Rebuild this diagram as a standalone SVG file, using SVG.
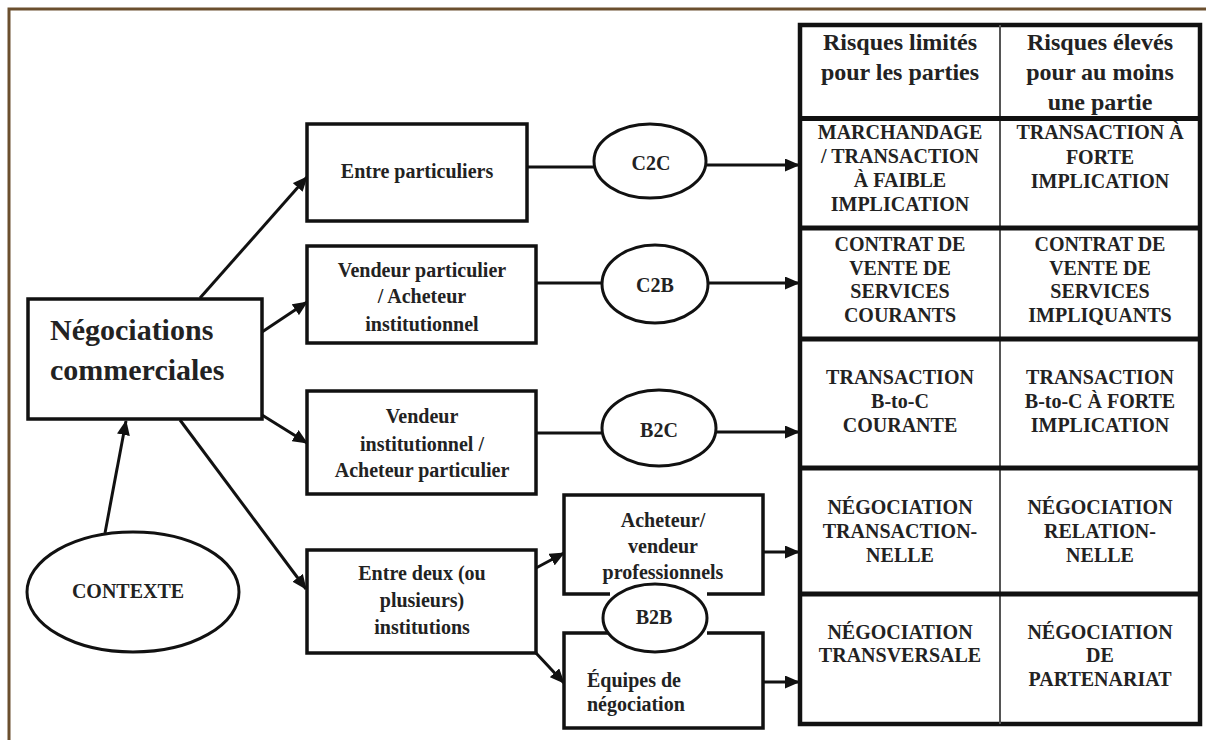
<svg xmlns="http://www.w3.org/2000/svg" width="1206" height="740" viewBox="0 0 1206 740">
<defs>
<style>
.t{font-size:20px;text-anchor:middle;}
.tl{font-size:20px;}
.big{font-size:30px;}
.hd{font-size:24px;text-anchor:middle;}
.box{fill:#fff;stroke:#111;stroke-width:3.5;}
.ell{fill:#fff;stroke:#111;stroke-width:3;}
.ln{stroke:#111;stroke-width:3;fill:none;}
.arr{stroke:#111;stroke-width:3;fill:none;marker-end:url(#ah);}
.thick{stroke:#111;stroke-width:5;fill:none;}
</style>
<marker id="ah" markerUnits="userSpaceOnUse" markerWidth="15" markerHeight="13" refX="14" refY="6.5" orient="auto">
<path d="M0,0 L15,6.5 L0,13 z" fill="#111"/>
</marker>
</defs>
<rect width="1206" height="740" fill="#fff"/>
<path d="M9,740 V9 H1206" fill="none" stroke="#6b4f2e" stroke-width="3"/>

<g id="connectors">
<line class="arr" x1="200" y1="298" x2="307" y2="177"/>
<line class="arr" x1="262" y1="332" x2="307" y2="302"/>
<line class="arr" x1="262" y1="415" x2="307" y2="443"/>
<line class="arr" x1="180" y1="420" x2="306" y2="589"/>
<line class="arr" x1="105" y1="533" x2="126" y2="421"/>
<line class="ln" x1="527" y1="167" x2="594" y2="167"/>
<line class="arr" x1="707" y1="165" x2="799" y2="165"/>
<line class="ln" x1="536" y1="283" x2="602" y2="283"/>
<line class="arr" x1="708" y1="283" x2="799" y2="283"/>
<line class="ln" x1="536" y1="433" x2="602" y2="433"/>
<line class="arr" x1="716" y1="432" x2="799" y2="432"/>
<line class="arr" x1="536" y1="568" x2="564" y2="553"/>
<line class="arr" x1="536" y1="653" x2="564" y2="683"/>
<line class="arr" x1="763" y1="552" x2="799" y2="552"/>
<line class="arr" x1="763" y1="682" x2="799" y2="682"/>
</g>

<g font-family="'Liberation Serif', 'DejaVu Serif', serif" font-weight="bold" fill="#222">
<g id="negociations">
<rect class="box" x="28" y="299" width="234" height="120"/>
<text class="big" x="50" y="340">Négociations</text>
<text class="big" x="50" y="380">commerciales</text>
</g>

<g id="contexte">
<ellipse class="ell" cx="133" cy="592" rx="106" ry="60"/>
<text class="t" x="128" y="598">CONTEXTE</text>
</g>

<g id="entre-particuliers">
<rect class="box" x="307" y="124" width="220" height="97"/>
<text class="t" x="417" y="178">Entre particuliers</text>
</g>

<g id="vendeur-particulier">
<rect class="box" x="307" y="246" width="229" height="97"/>
<text class="t" x="422" y="277">Vendeur particulier</text>
<text class="t" x="422" y="303">/ Acheteur</text>
<text class="t" x="422" y="331">institutionnel</text>
</g>

<g id="vendeur-institutionnel">
<rect class="box" x="307" y="391" width="229" height="103"/>
<text class="t" x="422" y="423">Vendeur</text>
<text class="t" x="422" y="451">institutionnel /</text>
<text class="t" x="422" y="477">Acheteur particulier</text>
</g>

<g id="entre-deux">
<rect class="box" x="307" y="550" width="229" height="103"/>
<text class="t" x="422" y="580">Entre deux (ou</text>
<text class="t" x="422" y="607">plusieurs)</text>
<text class="t" x="422" y="634">institutions</text>
</g>

<g id="acheteur-vendeur">
<rect class="box" x="564" y="495" width="199" height="99"/>
<text class="t" x="663" y="527">Acheteur/</text>
<text class="t" x="663" y="553">vendeur</text>
<text class="t" x="663" y="579">professionnels</text>
</g>

<g id="equipes">
<rect class="box" x="564" y="633" width="199" height="95"/>
<text class="tl" x="587" y="687">Équipes de</text>
<text class="tl" x="587" y="711">négociation</text>
</g>

<g id="c2c">
<ellipse class="ell" cx="650" cy="161" rx="56" ry="37"/>
<text class="t" x="651" y="170">C2C</text>
</g>

<g id="c2b">
<ellipse class="ell" cx="655" cy="284" rx="53" ry="39"/>
<text class="t" x="655" y="292">C2B</text>
</g>

<g id="b2c">
<ellipse class="ell" cx="659" cy="428" rx="57" ry="38"/>
<text class="t" x="659" y="437">B2C</text>
</g>

<g id="b2b">
<rect x="610" y="590" width="97" height="47" fill="#fff"/>
<ellipse class="ell" cx="655" cy="618" rx="52" ry="34"/>
<text class="t" x="654" y="624">B2B</text>
</g>

<g id="table">
<rect x="800" y="25" width="400" height="699" fill="#fff" stroke="#111" stroke-width="4.5"/>
<line x1="1000" y1="25" x2="1000" y2="724" stroke="#555" stroke-width="2"/>
<line class="thick" x1="800" y1="118.5" x2="1200" y2="118.5"/>
<line class="thick" x1="800" y1="228" x2="1200" y2="228"/>
<line class="thick" x1="800" y1="339" x2="1200" y2="339"/>
<line class="thick" x1="800" y1="468" x2="1200" y2="468"/>
<line class="thick" x1="800" y1="594" x2="1200" y2="594"/>

<text class="hd" x="900" y="50">Risques limités</text>
<text class="hd" x="900" y="80">pour les parties</text>
<text class="hd" x="1100" y="50">Risques élevés</text>
<text class="hd" x="1100" y="80">pour au moins</text>
<text class="hd" x="1100" y="110">une partie</text>

<text class="t" x="900" y="139">MARCHANDAGE</text>
<text class="t" x="900" y="163">/ TRANSACTION</text>
<text class="t" x="900" y="187">À FAIBLE</text>
<text class="t" x="900" y="211">IMPLICATION</text>
<text class="t" x="1100" y="139">TRANSACTION À</text>
<text class="t" x="1100" y="164">FORTE</text>
<text class="t" x="1100" y="188">IMPLICATION</text>

<text class="t" x="900" y="251">CONTRAT DE</text>
<text class="t" x="900" y="275">VENTE DE</text>
<text class="t" x="900" y="298">SERVICES</text>
<text class="t" x="900" y="322">COURANTS</text>
<text class="t" x="1100" y="251">CONTRAT DE</text>
<text class="t" x="1100" y="275">VENTE DE</text>
<text class="t" x="1100" y="298">SERVICES</text>
<text class="t" x="1100" y="322">IMPLIQUANTS</text>

<text class="t" x="900" y="384">TRANSACTION</text>
<text class="t" x="900" y="408">B-to-C</text>
<text class="t" x="900" y="432">COURANTE</text>
<text class="t" x="1100" y="384">TRANSACTION</text>
<text class="t" x="1100" y="408">B-to-C À FORTE</text>
<text class="t" x="1100" y="432">IMPLICATION</text>

<text class="t" x="900" y="514">NÉGOCIATION</text>
<text class="t" x="900" y="538">TRANSACTION-</text>
<text class="t" x="900" y="562">NELLE</text>
<text class="t" x="1100" y="514">NÉGOCIATION</text>
<text class="t" x="1100" y="538">RELATION-</text>
<text class="t" x="1100" y="562">NELLE</text>

<text class="t" x="900" y="639">NÉGOCIATION</text>
<text class="t" x="900" y="662">TRANSVERSALE</text>
<text class="t" x="1100" y="639">NÉGOCIATION</text>
<text class="t" x="1100" y="662">DE</text>
<text class="t" x="1100" y="686">PARTENARIAT</text>
</g>
</g>
</svg>
